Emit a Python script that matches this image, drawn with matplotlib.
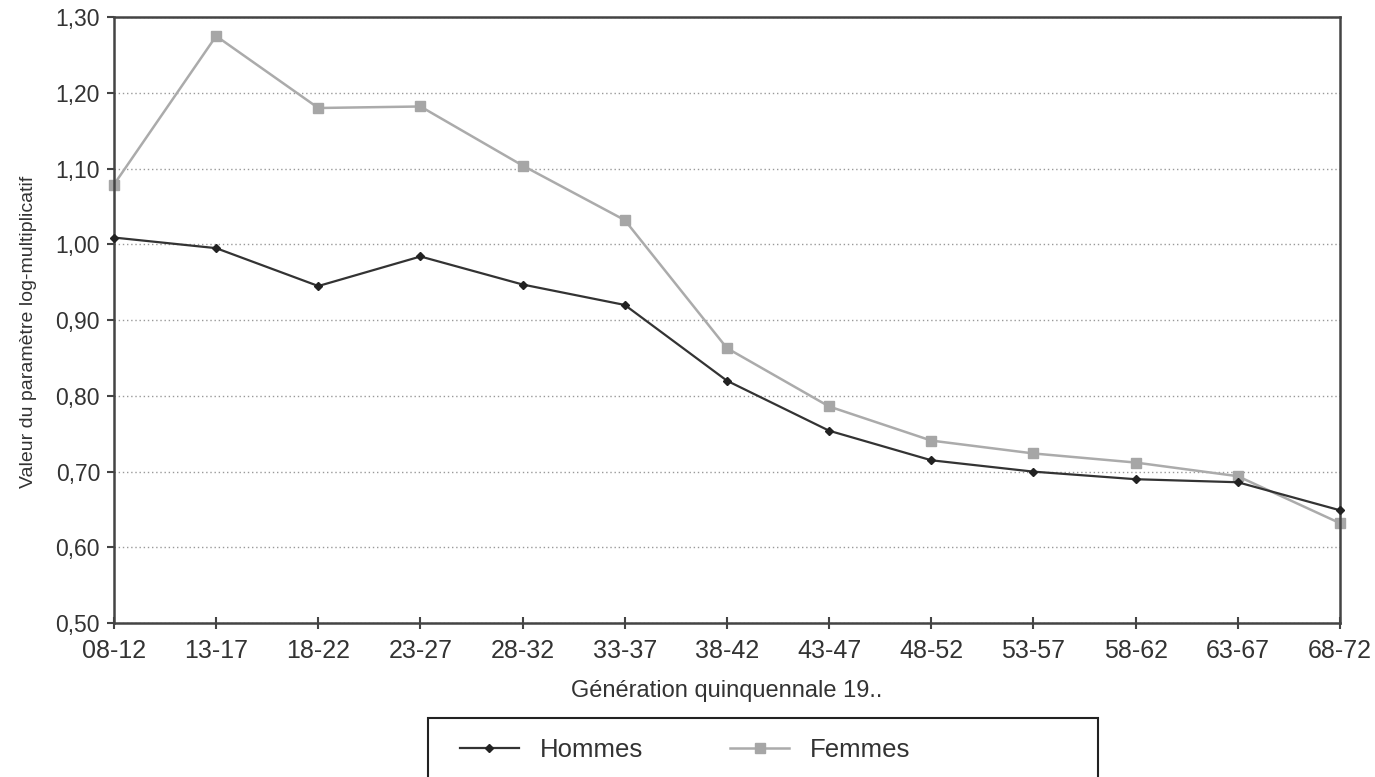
import matplotlib
matplotlib.use("Agg")
import matplotlib.pyplot as plt
from matplotlib.patches import Rectangle
import numpy as np

# data
generations = ["08-12", "13-17", "18-22", "23-27", "28-32", "33-37", "38-42",
               "43-47", "48-52", "53-57", "58-62", "63-67", "68-72"]
hommes = [1.009, 0.995, 0.945, 0.984, 0.947, 0.920, 0.820,
          0.754, 0.715, 0.700, 0.690, 0.686, 0.649]
femmes = [1.079, 1.275, 1.180, 1.182, 1.104, 1.032, 0.863,
          0.786, 0.741, 0.724, 0.712, 0.694, 0.632]
yticks = [0.5, 0.6, 0.7, 0.8, 0.9, 1.0, 1.1, 1.2, 1.3]

plt.rcParams["font.family"] = ["Liberation Sans", "DejaVu Sans"]

fig = plt.figure(figsize=(13.75, 7.77), dpi=100)
ax = fig.add_axes([0.0829, 0.198, 0.8916, 0.780])

x = np.arange(len(generations))
ax.plot(x, hommes, color="#333333", lw=1.6, marker="D", ms=4.5,
        markerfacecolor="#222222", markeredgecolor="#222222", label="Hommes",
        zorder=3, clip_on=False)
ax.plot(x, femmes, color="#ababab", lw=1.8, marker="s", ms=7.5,
        markerfacecolor="#a6a6a6", markeredgecolor="#a6a6a6", label="Femmes",
        zorder=2, clip_on=False)

ax.set_xlim(0, len(generations) - 1)
ax.set_ylim(0.5, 1.3)
ax.set_xticks(x)
ax.set_xticklabels(generations, fontsize=18, color="#333333")
ax.set_yticks(yticks)
ax.set_yticklabels([f"{v:.2f}".replace(".", ",") for v in yticks],
                   fontsize=16.5, color="#333333")
ax.yaxis.grid(True, linestyle=(0, (1, 2)), color="#999999", lw=1.0)
ax.set_axisbelow(True)
ax.tick_params(axis="x", direction="inout", length=9, width=1.5, color="#444444", pad=7)
ax.tick_params(axis="y", direction="out", length=5, width=1.5, color="#444444", pad=5)
for s in ax.spines.values():
    s.set_linewidth(1.8)
    s.set_color("#444444")

ax.set_xlabel("Génération quinquennale 19..", fontsize=17, color="#333333", labelpad=12)
ax.set_ylabel("Valeur du paramètre log-multiplicatif", fontsize=14, color="#333333")
ax.yaxis.set_label_coords(-0.063, 0.48)

# legend box wider than its entries, bottom edge running off the figure
fig.patches.append(Rectangle((428 / 1375, -0.05), 670 / 1375, 0.05 + (777 - 718) / 777,
                             transform=fig.transFigure, fill=False,
                             edgecolor="#222222", lw=1.5))
leg = fig.legend(loc="center left", bbox_to_anchor=(0.325, 0.035), ncol=2, fontsize=18.5,
                 frameon=False, borderpad=0, handlelength=2.3,
                 columnspacing=3.4, handletextpad=0.8)
for t in leg.get_texts():
    t.set_color("#333333")

fig.savefig("out.png", dpi=100)
